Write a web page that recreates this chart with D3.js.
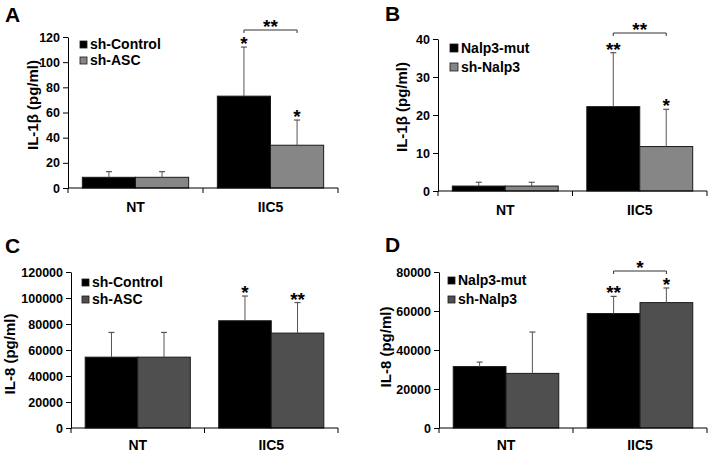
<!DOCTYPE html>
<html><head><meta charset="utf-8">
<script src="https://cdn.jsdelivr.net/npm/d3@7"></script>
<style>
body{margin:0;background:#fff;}
svg{display:block;font-family:"Liberation Sans",Arial,sans-serif;font-weight:bold;}
</style></head>
<body><svg id="c" width="709" height="453"></svg>
<script>
// ---- data ----
const categories = ["NT", "IIC5"];
const seriesA = ["sh-Control", "sh-ASC"];
const valuesA = [[8.5, 73], [8.5, 34]];
const errorsA = [[13, 112], [13, 54]];
const ticksA = [0, 20, 40, 60, 80, 100, 120];
const starsA = [["", "*"], ["", "*"]];

const seriesB = ["Nalp3-mut", "sh-Nalp3"];
const valuesB = [[1.3, 22.2], [1.3, 11.7]];
const errorsB = [[2.3, 36.4], [2.3, 21.5]];
const ticksB = [0, 10, 20, 30, 40];
const starsB = [["", "**"], ["", "*"]];

const seriesC = ["sh-Control", "sh-ASC"];
const valuesC = [[54500, 82500], [54500, 73000]];
const errorsC = [[73500, 101500], [73500, 96500]];
const ticksC = [0, 20000, 40000, 60000, 80000, 100000, 120000];
const starsC = [["", "*"], ["", "**"]];

const seriesD = ["Nalp3-mut", "sh-Nalp3"];
const valuesD = [[31500, 58700], [28000, 64300]];
const errorsD = [[33800, 67500], [49200, 71800]];
const ticksD = [0, 20000, 40000, 60000, 80000];
const starsD = [["", "**"], ["", "*"]];

const yTitles = ["IL-1\u03b2 (pg/ml)", "IL-1\u03b2 (pg/ml)", "IL-8 (pg/ml)", "IL-8 (pg/ml)"];
const panelLetters = ["A", "B", "C", "D"];
const bracketLabels = ["**", "**", "", "*"];

// ---- layout ----
const panels = [
  {letter: panelLetters[0], series: seriesA, values: valuesA, errors: errorsA, ticks: ticksA, stars: starsA, title: yTitles[0], bracket: bracketLabels[0],
   left: 68, right: 338, y0: 188, yTop: 37, lx: 5, ly: 22, tx: 38, ty: 105, legX: 80, legY: 41, legStep: 16, gray: "#868686", brY: 30, sq: 7},
  {letter: panelLetters[1], series: seriesB, values: valuesB, errors: errorsB, ticks: ticksB, stars: starsB, title: yTitles[1], bracket: bracketLabels[1],
   left: 438, right: 707, y0: 191, yTop: 39, lx: 385, ly: 21, tx: 407, ty: 107, legX: 450, legY: 44, legStep: 19, gray: "#868686", brY: 33, sq: 8},
  {letter: panelLetters[2], series: seriesC, values: valuesC, errors: errorsC, ticks: ticksC, stars: starsC, title: yTitles[2], bracket: bracketLabels[2],
   left: 71, right: 338, y0: 428, yTop: 272, lx: 5, ly: 253, tx: 15, ty: 354, legX: 82, legY: 279, legStep: 17, gray: "#4f4f4f", brY: 0, sq: 7},
  {letter: panelLetters[3], series: seriesD, values: valuesD, errors: errorsD, ticks: ticksD, stars: starsD, title: yTitles[3], bracket: bracketLabels[3],
   left: 439, right: 707, y0: 428, yTop: 272, lx: 385, ly: 252, tx: 391, ty: 347, legX: 448, legY: 277, legStep: 19, gray: "#4f4f4f", brY: 271, sq: 7}
];

const svg = d3.select("#c");

panels.forEach(p => {
  const g = svg.append("g");
  const x = d3.scaleBand().domain(categories).range([p.left, p.right]).padding(0);
  const xs = d3.scaleBand().domain(p.series).range([0, x.bandwidth()]).paddingInner(0).paddingOuter(0.27);
  const y = d3.scaleLinear().domain([p.ticks[0], p.ticks[p.ticks.length - 1]]).range([p.y0, p.yTop]);
  const colors = ["#000000", p.gray];

  // bars
  p.series.forEach((s, si) => {
    categories.forEach((c, ci) => {
      const bx = x(c) + xs(s);
      const v = p.values[si][ci];
      g.append("rect").attr("x", bx).attr("y", y(v)).attr("width", xs.bandwidth()).attr("height", p.y0 - y(v))
        .attr("fill", colors[si]).attr("stroke", "#1a1a1a").attr("stroke-width", 1);
      const cx = bx + xs.bandwidth() / 2;
      const e = p.errors[si][ci];
      g.append("line").attr("x1", cx).attr("x2", cx).attr("y1", y(v)).attr("y2", y(e)).attr("stroke", "#555").attr("stroke-width", 1);
      g.append("line").attr("x1", cx - 3).attr("x2", cx + 3).attr("y1", y(e)).attr("y2", y(e)).attr("stroke", "#555").attr("stroke-width", 1.2);
      const st = p.stars[si][ci];
      if (st) {
        g.append("text").attr("x", cx).attr("y", y(e) + 3).attr("text-anchor", "middle")
          .attr("font-size", 19).text(st);
      }
    });
  });

  // bracket
  if (p.bracket) {
    const c = categories[1];
    const xa = x(c) + xs(p.series[0]) + xs.bandwidth() / 2;
    const xb = x(c) + xs(p.series[1]) + xs.bandwidth() / 2;
    g.append("path").attr("d", `M${xa},${p.brY + 3}V${p.brY}H${xb}V${p.brY + 3}`)
      .attr("fill", "none").attr("stroke", "#333").attr("stroke-width", 1);
    g.append("text").attr("x", (xa + xb) / 2).attr("y", p.brY + 3).attr("text-anchor", "middle")
      .attr("font-size", 19).text(p.bracket);
  }

  // y axis
  const ya = g.append("g").attr("transform", `translate(${p.left},0)`)
    .call(d3.axisLeft(y).tickValues(p.ticks).tickSize(5).tickSizeOuter(0).tickPadding(3).tickFormat(d3.format("d")));
  ya.selectAll("text").attr("font-size", 12.5).attr("font-weight", "bold").attr("font-family", "Liberation Sans, Arial, sans-serif").attr("fill", "#000");
  ya.selectAll("line,path").attr("stroke", "#000");

  // x axis
  g.append("line").attr("x1", p.left).attr("x2", p.right).attr("y1", p.y0).attr("y2", p.y0).attr("stroke", "#000");
  const bounds = [p.left].concat(categories.map(c => x(c) + x.bandwidth()));
  bounds.forEach(b => g.append("line").attr("x1", b).attr("x2", b).attr("y1", p.y0).attr("y2", p.y0 + 5).attr("stroke", "#000"));
  categories.forEach(c => {
    g.append("text").attr("x", x(c) + x.bandwidth() / 2).attr("y", Math.min(p.y0 + 24, 450)).attr("text-anchor", "middle")
      .attr("font-size", 14).text(c);
  });

  // y title
  g.append("text").attr("transform", `translate(${p.tx},${p.ty}) rotate(-90)`).attr("text-anchor", "middle")
    .attr("font-size", 15).text(p.title);

  // panel letter
  g.append("text").attr("x", p.lx).attr("y", p.ly).attr("font-size", 21).text(p.letter);

  // legend
  p.series.forEach((s, si) => {
    const ly = p.legY + si * p.legStep;
    g.append("rect").attr("x", p.legX).attr("y", ly).attr("width", p.sq).attr("height", p.sq)
      .attr("fill", colors[si]).attr("stroke", "#1a1a1a").attr("stroke-width", 0.8);
    g.append("text").attr("x", p.legX + p.sq + 3).attr("y", ly + p.sq + 1).attr("font-size", 14).text(s);
  });
});
</script>
</body></html>
